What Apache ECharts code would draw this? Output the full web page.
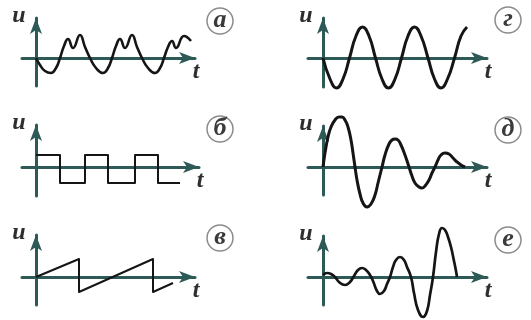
<!DOCTYPE html>
<html>
<head>
<meta charset="utf-8">
<script src="https://cdn.jsdelivr.net/npm/echarts@6/dist/echarts.min.js"></script>
<style>
  html, body { margin: 0; padding: 0; background: #ffffff; }
  #chart { width: 531px; height: 320px; }
</style>
</head>
<body>
<div id="chart"></div>
<script>
// Waveform samples as [t, u] pairs
const waveA = [[0,0],[4,-7],[9,-13],[15,-15],[20,-10],[24,0],[28,12],[32,19],[37,10],[44,23],[49,11],[54,0],
  [60,-10],[67,-15],[72,-10],[76,0],[80,12],[84,19],[89,10],[96,23],[101,11],[106,0],[112,-10],[119,-15],
  [124,-10],[128,0],[132,11],[136,17],[140,10],[148,22],[155,17]];
// rectangular pulses: level holds until the next switching time
const waveB = [[0,12],[24,-16],[49,12],[72,-16],[99,12],[122,-16],[144,-16]];
// sawtooth: ramps with sharp drops
const waveV = [[0,0],[43,18],[43,-15],[117,18],[117,-15],[137,-6]];
const waveG = [[0,0],[7,-21],[13.5,-30],[20,-21],[26.5,0],[33,22],[39.5,31],[46,22],[52.5,0],[59,-21],
  [65.5,-30],[72,-21],[78.5,0],[85,22],[91.5,31],[98,22],[105,0],[111.5,-21],[118,-30],[124.5,-21],
  [131.5,0],[138,22],[144,31]];
const waveD = [[0,0],[2,14],[5,30],[8,40],[12,47],[16,50],[19,50],[22,47],[25,40],[28,27],[30,14],[32,0],
  [34,-13],[37,-27],[40,-36],[44,-40],[48,-37],[52,-28],[55,-16],[59,0],[62,12],[66,23],[69,27],[72,28],
  [75,27],[78,22],[82,12],[86,0],[89,-9],[92,-16],[96,-20],[99,-21],[102,-19],[106,-13],[109,-6],[112,0],
  [115,7],[118,12],[122,14],[126,13],[130,9],[134,5],[138,2],[142,0]];
const waveE = [[0,2],[4,4],[8,3],[12,0],[16,-5],[22,-8],[27,-5],[31,1],[35,7],[39,9],[43,7],[47,2],[50,-4],
  [54,-14],[57,-17],[61,-14],[64,-7],[67,0],[70,10],[73,17],[77,20],[81,17],[84,10],[88,0],[91,-16],
  [95,-33],[100,-40],[104,-34],[107,-18],[110,0],[113,25],[116,43],[119,49],[122,47],[125,40],[128,30],
  [131,16],[133,6],[134,0]];

const panelLetters = ['а', 'б', 'в', 'г', 'д', 'е'];
const axisNames = ['u', 't'];

// Panel frames in pixels: origin, x-axis extent, y-axis extent, badge centre
const frames = [
  { ox: 36,  oy: 58,  xl: 22,  xt: 203, yt: 10,  yb: 86,  badge: [220, 21] },
  { ox: 36,  oy: 167, xl: 22,  xt: 207, yt: 117, yb: 196, badge: [220, 129] },
  { ox: 36,  oy: 277, xl: 22,  xt: 203, yt: 227, yb: 305, badge: [220, 238] },
  { ox: 323, oy: 58,  xl: 308, xt: 495, yt: 10,  yb: 87,  badge: [508, 20] },
  { ox: 323, oy: 167, xl: 308, xt: 495, yt: 118, yb: 195, badge: [508, 130] },
  { ox: 323, oy: 277, xl: 308, xt: 495, yt: 228, yb: 305, badge: [508, 240] }
];
const waves = [waveA, waveB, waveV, waveG, waveD, waveE];
const waveStyle = [
  { smooth: 0.5, step: false, width: 2.6 },
  { smooth: false, step: 'end', width: 2 },
  { smooth: false, step: false, width: 2 },
  { smooth: 0.5, step: false, width: 3 },
  { smooth: 0.5, step: false, width: 3 },
  { smooth: 0.5, step: false, width: 2.7 }
];

const AXIS_COLOR = '#2d5a57';
const ARROW = [9, 16];
const TEXT_FONT = '"Liberation Serif", "DejaVu Serif", serif';

const grids = [], xAxes = [], yAxes = [], series = [], graphics = [];
frames.forEach((f, i) => {
  const lineEndX = f.xt - ARROW[1] / 2;
  const lineTopY = f.yt + ARROW[1] / 2;
  grids.push({ left: f.xl, top: lineTopY, width: lineEndX - f.xl, height: f.yb - lineTopY });
  const axisCommon = {
    type: 'value',
    gridIndex: i,
    splitLine: { show: false },
    axisTick: { show: false },
    axisLabel: { show: false },
    axisLine: {
      show: true, onZero: true,
      symbol: ['none', 'arrow'], symbolSize: ARROW,
      lineStyle: { color: AXIS_COLOR, width: 3 }
    }
  };
  xAxes.push(Object.assign({}, axisCommon, { min: f.xl - f.ox, max: lineEndX - f.ox }));
  yAxes.push(Object.assign({}, axisCommon, { min: f.oy - f.yb, max: f.oy - lineTopY }));
  const st = waveStyle[i];
  series.push({
    type: 'line',
    xAxisIndex: i, yAxisIndex: i,
    data: waves[i],
    smooth: st.smooth,
    step: st.step,
    showSymbol: false,
    clip: false,
    silent: true,
    lineStyle: { color: '#151515', width: st.width, join: 'round' },
    z: 3
  });
  // axis names
  graphics.push({
    type: 'text', x: f.ox - 17, y: f.yt + 6,
    style: { text: axisNames[0], font: 'italic bold 24px ' + TEXT_FONT, fill: '#2e2e2e', align: 'center', verticalAlign: 'middle' }
  });
  graphics.push({
    type: 'text', x: f.xt - 7, y: f.oy + 14,
    style: { text: axisNames[1], font: 'italic bold 24px ' + TEXT_FONT, fill: '#2e2e2e', align: 'center', verticalAlign: 'middle' }
  });
  // circled panel letter
  graphics.push({
    type: 'circle', shape: { cx: f.badge[0], cy: f.badge[1], r: 13 },
    style: { fill: 'none', stroke: '#8c8c8c', lineWidth: 1.5 }
  });
  graphics.push({
    type: 'text', x: f.badge[0], y: f.badge[1] - 1,
    style: { text: panelLetters[i], font: 'italic bold 26px ' + TEXT_FONT, fill: '#3a3a3a', align: 'center', verticalAlign: 'middle' }
  });
});

const chart = echarts.init(document.getElementById('chart'), null, { renderer: 'canvas' });
chart.setOption({
  animation: false,
  backgroundColor: '#ffffff',
  grid: grids,
  xAxis: xAxes,
  yAxis: yAxes,
  series: series,
  graphic: graphics
});
</script>
</body>
</html>
